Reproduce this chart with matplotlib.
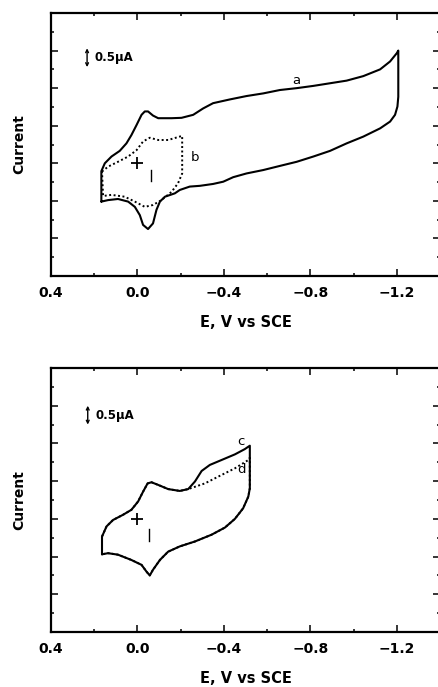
import matplotlib
matplotlib.use("Agg")
import matplotlib.pyplot as plt
from matplotlib.ticker import MultipleLocator, FixedLocator, FixedFormatter

# ---- data (E in V vs SCE, current in uA) ----
# Curve a: wide scan, +0.17 V to -1.20 V
a_E = [0.167, 0.167, 0.151, 0.120, 0.082, 0.051, 0.028, 0.004, -0.019, -0.034,
       -0.049, -0.072, -0.096, -0.158, -0.204, -0.258, -0.304, -0.350, -0.428,
       -0.505, -0.582, -0.659, -0.737, -0.814, -0.891, -0.968, -1.045, -1.123,
       -1.169, -1.200, -1.207, -1.207, -1.203, -1.192, -1.169, -1.123, -1.045,
       -0.968, -0.891, -0.814, -0.737, -0.659, -0.582, -0.505, -0.443, -0.397,
       -0.350, -0.289, -0.242, -0.196, -0.173, -0.127, -0.104, -0.088, -0.072,
       -0.049, -0.026, -0.011, 0.012, 0.043, 0.090, 0.136, 0.167]
a_I = [-1.02, -0.21, 0.00, 0.18, 0.33, 0.53, 0.75, 1.02, 1.29, 1.38,
       1.38, 1.27, 1.20, 1.20, 1.21, 1.29, 1.46, 1.60, 1.70,
       1.79, 1.86, 1.95, 2.00, 2.06, 2.13, 2.20, 2.32, 2.50,
       2.71, 2.93, 3.00, 1.77, 1.51, 1.29, 1.11, 0.93, 0.71,
       0.53, 0.33, 0.18, 0.04, -0.07, -0.18, -0.27, -0.37, -0.49,
       -0.55, -0.60, -0.62, -0.71, -0.80, -0.89, -1.02, -1.24, -1.60,
       -1.75, -1.64, -1.38, -1.16, -1.02, -0.95, -0.98, -1.02]

# Curve b: narrow scan, +0.16 V to -0.21 V
b_E = [0.164, 0.136, 0.090, 0.043, 0.004, -0.026, -0.057, -0.096, -0.142,
       -0.207, -0.207, -0.188, -0.158, -0.111, -0.072, -0.034, 0.012, 0.059,
       0.120, 0.159, 0.164]
b_I = [-0.22, -0.09, 0.04, 0.18, 0.35, 0.58, 0.68, 0.62, 0.62,
       0.73, -0.27, -0.53, -0.76, -0.98, -1.11, -1.16, -1.02, -0.89,
       -0.84, -0.87, -0.22]

# Curve c: scan to -0.52 V
c_E = [0.164, 0.164, 0.143, 0.113, 0.066, 0.028, -0.003, -0.026, -0.047, -0.065,
       -0.096, -0.142, -0.196, -0.235, -0.266, -0.297, -0.335, -0.389, -0.451,
       -0.497, -0.520, -0.520, -0.513, -0.489, -0.451, -0.405, -0.343, -0.266,
       -0.196, -0.142, -0.104, -0.072, -0.057, -0.042, -0.019, 0.028, 0.090,
       0.136, 0.164]
c_I = [-0.94, -0.47, -0.20, -0.03, 0.11, 0.24, 0.46, 0.72, 0.94, 0.97,
       0.90, 0.79, 0.74, 0.79, 0.99, 1.27, 1.43, 1.56, 1.71,
       1.85, 1.94, 0.81, 0.59, 0.28, 0.00, -0.23, -0.42, -0.60,
       -0.73, -0.87, -1.09, -1.35, -1.50, -1.40, -1.22, -1.09, -0.95,
       -0.91, -0.94]

# Curve d: repeat scan to -0.52 V (lower current on the forward branch)
d_E = [0.164, 0.164, 0.143, 0.113, 0.066, 0.028, -0.003, -0.026, -0.047, -0.065,
       -0.096, -0.142, -0.196, -0.235, -0.312, -0.374, -0.451, -0.513, -0.520,
       -0.520, -0.513, -0.489, -0.451, -0.405, -0.343, -0.266,
       -0.196, -0.142, -0.104, -0.072, -0.057, -0.042, -0.019, 0.028, 0.090,
       0.136, 0.164]
d_I = [-0.94, -0.47, -0.20, -0.03, 0.11, 0.24, 0.46, 0.72, 0.94, 0.97,
       0.90, 0.79, 0.74, 0.79, 0.94, 1.12, 1.34, 1.56, 1.62,
       0.81, 0.59, 0.28, 0.00, -0.23, -0.42, -0.60,
       -0.73, -0.87, -1.09, -1.35, -1.50, -1.40, -1.22, -1.09, -0.95,
       -0.91, -0.94]

x_ticks = [0.4, 0.0, -0.4, -0.8, -1.2]
x_tick_labels = ["0.4", "0.0", "\u22120.4", "\u22120.8", "\u22121.2"]
scale_bar_uA = 0.5

FONT = "DejaVu Sans"

fig = plt.figure(figsize=(4.38, 6.87), dpi=100)
ax_top = fig.add_axes([51 / 438, 1 - 276 / 687, 389 / 438, 263 / 687])
ax_bot = fig.add_axes([51 / 438, 1 - 632 / 687, 389 / 438, 264 / 687])


def style_axes(ax):
    ax.set_xlim(0.4, -1.4)
    ax.set_ylim(-3, 4)
    ax.xaxis.set_major_locator(FixedLocator(x_ticks))
    ax.xaxis.set_major_formatter(FixedFormatter(x_tick_labels))
    ax.xaxis.set_minor_locator(MultipleLocator(0.2))
    ax.yaxis.set_major_locator(MultipleLocator(1))
    ax.yaxis.set_minor_locator(MultipleLocator(0.5))
    ax.set_yticklabels([])
    ax.tick_params(which="both", direction="in", top=True, right=True, width=1.1)
    ax.tick_params(which="major", length=5)
    ax.tick_params(which="minor", length=2.5)
    ax.tick_params(axis="x", which="major", pad=7, labelsize=10)
    for lab in ax.get_xticklabels():
        lab.set_fontweight("bold")
        lab.set_family(FONT)
    for s in ax.spines.values():
        s.set_linewidth(1.6)
    ax.set_xlabel("E, V vs SCE", fontsize=10.5, fontweight="bold", labelpad=11, family=FONT)
    ax.set_ylabel("Current", fontsize=10, fontweight="bold", labelpad=14, family=FONT)
    # origin marker
    ax.plot([0.0], [0.0], marker="+", ms=9, mew=1.3, color="black")


def scale_bar(ax, x, ytop):
    ax.annotate("", xy=(x, ytop - scale_bar_uA), xytext=(x, ytop),
                arrowprops=dict(arrowstyle="<->", lw=1.0, color="black",
                                shrinkA=0, shrinkB=0, mutation_scale=5))
    ax.text(x - 0.035, ytop - scale_bar_uA / 2, "0.5\u03bcA", fontsize=8.5,
            fontweight="bold", va="center", ha="left", family=FONT)


line_kw = dict(color="black", lw=1.5, solid_joinstyle="round", solid_capstyle="round")
dot_kw = dict(color="black", lw=1.4, ls=(0, (1, 1.3)))

style_axes(ax_top)
ax_top.plot(a_E, a_I, **line_kw)
ax_top.plot(b_E, b_I, **dot_kw)
ax_top.plot([-0.062, -0.062], [-0.18, -0.46], color="black", lw=1.0)
ax_top.text(-0.737, 2.2, "a", fontsize=9.5, ha="center", va="center", family=FONT)
ax_top.text(-0.266, 0.16, "b", fontsize=9.5, ha="center", va="center", family=FONT)
scale_bar(ax_top, 0.233, 3.06)

style_axes(ax_bot)
ax_bot.plot(d_E, d_I, zorder=2, **dot_kw)
ax_bot.plot(c_E, c_I, zorder=3, **line_kw)
ax_bot.plot([-0.053, -0.053], [-0.28, -0.60], color="black", lw=1.0)
ax_bot.text(-0.479, 2.05, "c", fontsize=9.5, ha="center", va="center", family=FONT)
ax_bot.text(-0.482, 1.30, "d", fontsize=9.5, ha="center", va="center", family=FONT)
scale_bar(ax_bot, 0.230, 3.0)

fig.savefig("out.png", dpi=100)
